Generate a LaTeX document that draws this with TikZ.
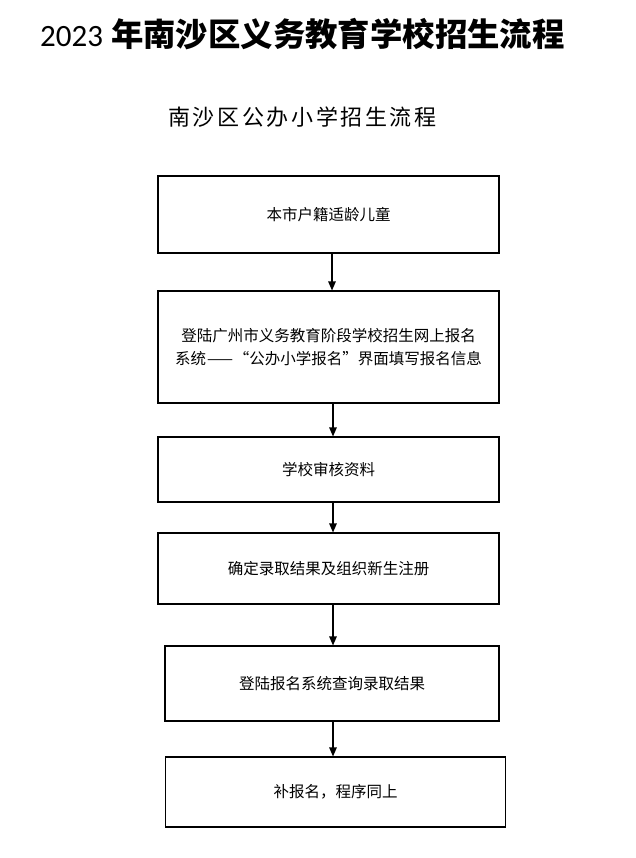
\documentclass[tikz,border=0pt]{standalone}
\usepackage{fontspec}
\setmainfont{Noto Sans CJK SC}
\newfontfamily\cjk{Noto Sans CJK SC}
\newfontfamily\cjkspaced[LetterSpace=12]{Noto Sans CJK SC}
\newfontfamily\digitfont{Carlito}
\usetikzlibrary{arrows.meta,calc}
\tikzset{
  stepbox/.style={draw=black, line width=1.1pt, rectangle, inner sep=0pt, align=center,
    font=\cjk\fontsize{15.5}{23}\selectfont},
  arr/.style={draw=black, line width=1.1pt, -{Triangle[length=9pt,width=7.5pt]}},
}
\begin{document}
\begin{tikzpicture}[x=1pt,y=-1pt]
\useasboundingbox (0,0) rectangle (636,858);
\fill[white] (0,0) rectangle (636,858);
\node[anchor=west, inner sep=0pt] (title) at (40,34)
  {\digitfont\fontsize{31}{34}\selectfont 2023\hspace{8pt}\cjk\bfseries\fontsize{32.4}{36}\selectfont 年南沙区义务教育学校招生流程};
\node[anchor=west, inner sep=0pt] (sub) at (168,117)
  {\cjkspaced\fontsize{22}{26}\selectfont 南沙区公办小学招生流程};
\node[stepbox, minimum width=341pt, minimum height=77pt] (b1) at (328.5,214.5) {本市户籍适龄儿童};
\node[stepbox, minimum width=341pt, minimum height=112pt] (b2) at (328.5,347)
  {登陆广州市义务教育阶段学校招生网上报名\\系统\hspace{1pt}——\hspace{1pt}“公办小学报名”界面填写报名信息};
\node[stepbox, minimum width=341pt, minimum height=65pt] (b3) at (328.5,469.5) {学校审核资料};
\node[stepbox, minimum width=341pt, minimum height=71pt] (b4) at (328.5,568.5) {确定录取结果及组织新生注册};
\node[stepbox, minimum width=334pt, minimum height=75pt] (b5) at (332,683.5) {登陆报名系统查询录取结果};
\node[stepbox, minimum width=340pt, minimum height=70pt] (b6) at (335.5,792) {补报名，程序同上};
\draw[arr] ([xshift=3.5pt]b1.south) -- ([xshift=3.5pt]b1.south |- b2.north);
\draw[arr] ([xshift=4.5pt]b2.south) -- ([xshift=4.5pt]b2.south |- b3.north);
\draw[arr] ([xshift=4.5pt]b3.south) -- ([xshift=4.5pt]b3.south |- b4.north);
\draw[arr] ([xshift=4.5pt]b4.south) -- ([xshift=4.5pt]b4.south |- b5.north);
\draw[arr] ([xshift=1pt]b5.south) -- ([xshift=1pt]b5.south |- b6.north);
\end{tikzpicture}
\end{document}
